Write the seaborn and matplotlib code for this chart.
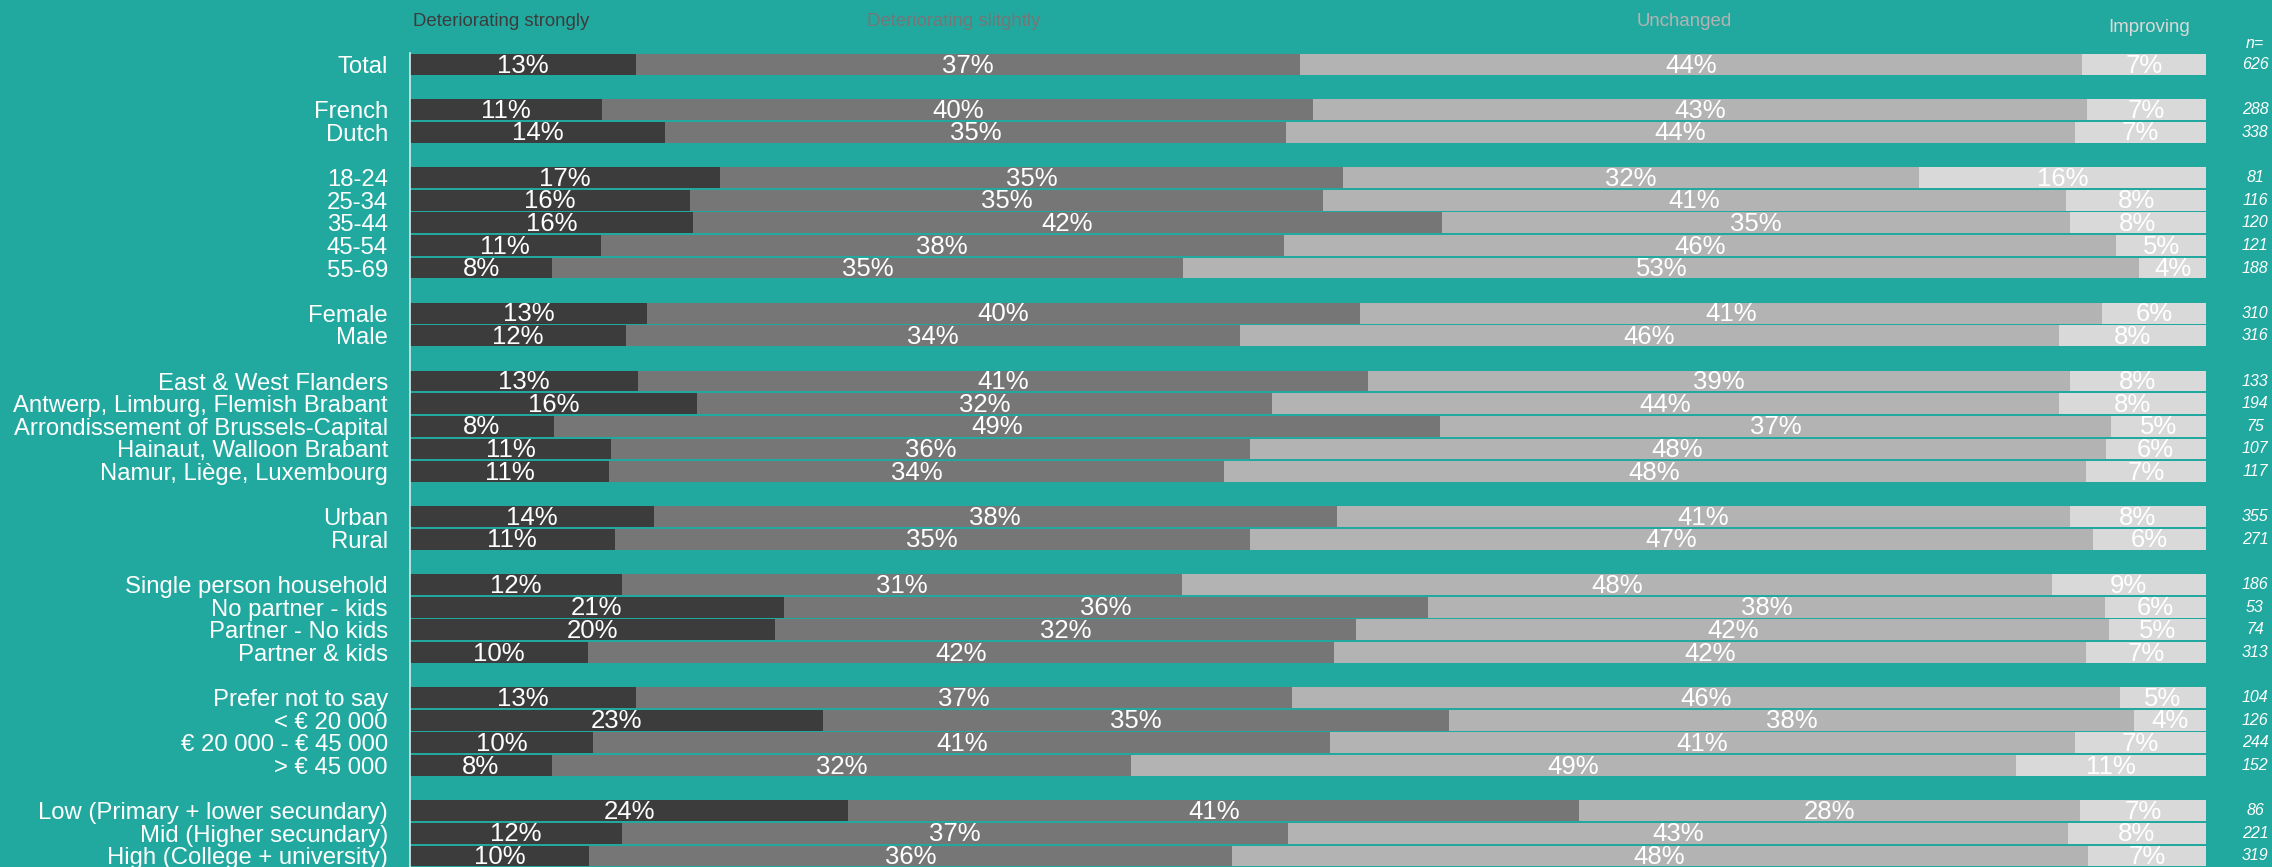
import numpy as np
import pandas as pd
import seaborn as sns
import matplotlib.pyplot as plt
import matplotlib.transforms as mtransforms

# categories, top to bottom; group_sizes says how they are split into blocks
categories = [
    "Total",
    "French", "Dutch",
    "18-24", "25-34", "35-44", "45-54", "55-69",
    "Female", "Male",
    "East & West Flanders", "Antwerp, Limburg, Flemish Brabant",
    "Arrondissement of Brussels-Capital", "Hainaut, Walloon Brabant",
    "Namur, Liège, Luxembourg",
    "Urban", "Rural",
    "Single person household", "No partner - kids", "Partner - No kids", "Partner & kids",
    "Prefer not to say", "< € 20 000", "€ 20 000 - € 45 000", "> € 45 000",
    "Low (Primary + lower secundary)", "Mid (Higher secundary)", "High (College + university)",
]
group_sizes = [1, 2, 5, 2, 5, 2, 4, 4, 3]

series_names = ["Deteriorating strongly", "Deteriorating slitghtly", "Unchanged", "Improving"]

strong = [12.6, 10.7, 14.2, 17.3, 15.6, 15.8, 10.6, 7.9, 13.2, 12.0, 12.7, 16.0, 8.0, 11.2,
          11.1, 13.6, 11.4, 11.8, 20.8, 20.3, 9.9, 12.6, 23.0, 10.2, 7.9, 24.4, 11.8, 10.0]
slight = [37.0, 39.6, 34.6, 34.7, 35.3, 41.7, 38.0, 35.1, 39.7, 34.2, 40.7, 32.0, 49.4, 35.6,
          34.2, 38.1, 35.4, 31.2, 35.9, 32.4, 41.6, 36.6, 34.9, 41.0, 32.3, 40.7, 37.1, 35.8]
unchanged = [43.6, 43.1, 43.9, 32.1, 41.4, 35.0, 46.3, 53.2, 41.3, 45.6, 39.1, 43.8, 37.4, 47.7,
             48.0, 40.9, 47.0, 48.4, 37.7, 41.9, 41.9, 46.2, 38.2, 41.4, 49.3, 27.9, 43.4, 47.7]
improving = [6.9, 6.6, 7.3, 16.0, 7.8, 7.6, 5.0, 3.7, 5.8, 8.2, 7.6, 8.2, 5.3, 5.6,
             6.7, 7.6, 6.3, 8.6, 5.6, 5.4, 6.7, 4.8, 4.0, 7.3, 10.6, 7.0, 7.7, 6.6]
n_resp = [626, 288, 338, 81, 116, 120, 121, 188, 310, 316, 133, 194, 75, 107, 117,
          355, 271, 186, 53, 74, 313, 104, 126, 244, 152, 86, 221, 319]

colors = ["#3c3c3c", "#767676", "#b3b3b3", "#d9d9d9"]
teal = "#22a99f"

# row positions with an empty row between blocks
pos = []
p = 0
for g in group_sizes:
    pos += list(range(p, p + g))
    p += g + 1

vals = np.array([strong, slight, unchanged, improving]).T
shares = vals / vals.sum(axis=1, keepdims=True) * 100
cum = shares.cumsum(axis=1)

df = pd.DataFrame({"category": categories, "pos": pos})

sns.set_style("white")
plt.rcParams["font.family"] = ["Liberation Sans", "DejaVu Sans"]

fig = plt.figure(figsize=(22.72, 8.67), dpi=100, facecolor=teal)
ax = fig.add_axes([410 / 2272, 0, (2206 - 410) / 2272, 1])
ax.set_facecolor(teal)

# stacked bars: draw the cumulative totals from the longest to the shortest
for k in range(3, -1, -1):
    df["x"] = cum[:, k]
    sns.barplot(data=df, x="x", y="pos", orient="h", native_scale=True,
                color=colors[k], saturation=1, width=0.92, errorbar=None,
                linewidth=0, ax=ax)

# percentage labels in the middle of each segment
for i, y in enumerate(pos):
    for k in range(4):
        xc = cum[i, k] - shares[i, k] / 2
        ax.text(xc, y + 0.05, f"{vals[i, k]:.0f}%", ha="center", va="center",
                color="white", fontsize=18.5)

ax.set_xlim(0, 100)
ax.set_ylim(35.49, -2.853)
ax.set_xlabel("")
ax.set_ylabel("")
ax.set_xticks([])
ax.set_yticks(pos, categories)
ax.tick_params(axis="y", length=0, pad=16, labelsize=17.2, labelcolor="white")
for s in ["top", "right", "bottom"]:
    ax.spines[s].set_visible(False)
ax.spines["left"].set_color("#d8ecea")
ax.spines["left"].set_linewidth(1.2)
ax.spines["left"].set_bounds(-0.5, 35.49)

# series names above the bars
header_x = [501, 954, 1684, 2149]
header_y = [22, 22, 22, 27]
for name, c, hx, hy in zip(series_names, colors, header_x, header_y):
    fig.text(hx / 2272, 1 - hy / 867, name, ha="center", va="center",
             color=c, fontsize=13.4)

# sample sizes on the right
trans = mtransforms.blended_transform_factory(fig.transFigure, ax.transData)
fig.text(2255 / 2272, 1 - 43 / 867, "n=", ha="center", va="center",
         color="white", fontsize=11.5, style="italic")
for y, n in zip(pos, n_resp):
    ax.text(2255 / 2272, y, str(n), transform=trans, ha="center", va="center",
            color="white", fontsize=11.5, style="italic")

fig.savefig("out.png", dpi=100, facecolor=teal)
